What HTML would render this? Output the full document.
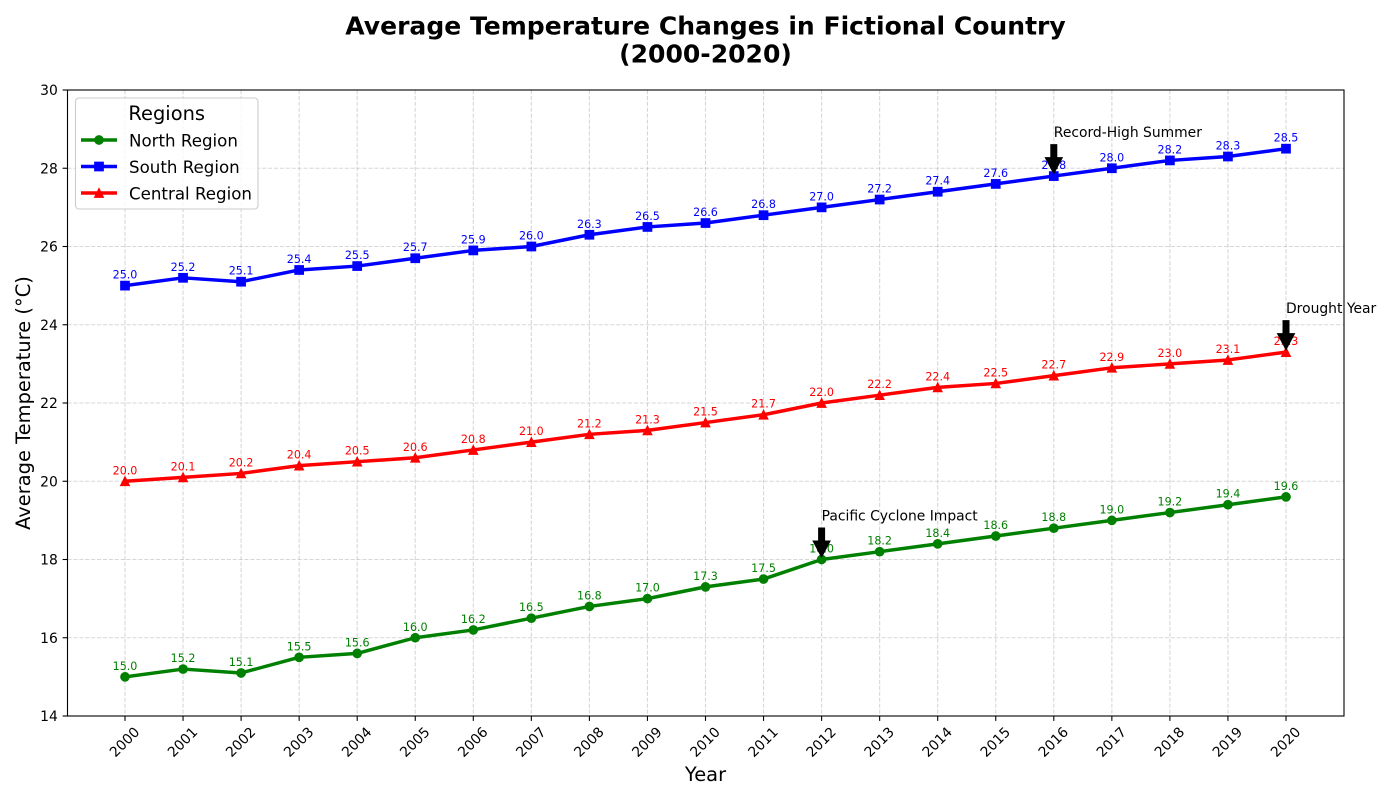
<!DOCTYPE html>
<html>
<head>
<meta charset="utf-8">
<title>Average Temperature Changes in Fictional Country</title>
<style>
html,body{margin:0;padding:0;background:#fff;width:1400px;height:800px;overflow:hidden}
svg{display:block}
text{font-family:"DejaVu Sans","Liberation Sans",sans-serif;fill:#000}
</style>
</head>
<body>
<svg id="chart" xmlns="http://www.w3.org/2000/svg" width="1400" height="800" viewBox="0 0 1400 800">
  <text x="705.5" y="34.5" text-anchor="middle" font-size="25.05px" font-weight="bold">Average Temperature Changes in Fictional Country</text>
  <text x="705.5" y="62.5" text-anchor="middle" font-size="25.05px" font-weight="bold">(2000-2020)</text>
  <text x="705.5" y="781" text-anchor="middle" font-size="19.44px">Year</text>
  <text transform="translate(30,403) rotate(-90)" text-anchor="middle" font-size="19.44px">Average Temperature (°C)</text>
  <g id="grid"></g>
  <g id="series"></g>
  <g id="spines"></g>
  <g id="ticks"></g>
  <g id="annotations"></g>
  <g id="legend"></g>
</svg>
<script>
const years = [2000,2001,2002,2003,2004,2005,2006,2007,2008,2009,2010,2011,2012,2013,2014,2015,2016,2017,2018,2019,2020];
const northValues = [15.0,15.2,15.1,15.5,15.6,16.0,16.2,16.5,16.8,17.0,17.3,17.5,18.0,18.2,18.4,18.6,18.8,19.0,19.2,19.4,19.6];
const southValues = [25.0,25.2,25.1,25.4,25.5,25.7,25.9,26.0,26.3,26.5,26.6,26.8,27.0,27.2,27.4,27.6,27.8,28.0,28.2,28.3,28.5];
const centralValues = [20.0,20.1,20.2,20.4,20.5,20.6,20.8,21.0,21.2,21.3,21.5,21.7,22.0,22.2,22.4,22.5,22.7,22.9,23.0,23.1,23.3];
const yTicks = [14,16,18,20,22,24,26,28,30];
const annotationYears = [2012,2016,2020];
const annotationValues = [18.0,27.8,23.3];
const annotationLabels = ["Pacific Cyclone Impact","Record-High Summer","Drought Year"];

const NS = "http://www.w3.org/2000/svg";
const plotLeft = 67.5, plotRight = 1344, plotTop = 90, plotBottom = 716;
const xScale = function (year) { return 125 + (year - 2000) * 58.05; };
const yScale = function (value) { return plotBottom - (value - 14) * (plotBottom - plotTop) / 16; };

function make(tag, parent, props, content) {
  const el = document.createElementNS(NS, tag);
  for (const key in props) el.setAttribute(key, props[key]);
  if (content !== undefined) el.textContent = content;
  parent.appendChild(el);
  return el;
}
function drawMarker(parent, kind, x, y, color) {
  if (kind === "circle") return make("circle", parent, {cx: x, cy: y, r: 4.86, fill: color});
  if (kind === "square") return make("rect", parent, {x: x - 4.86, y: y - 4.86, width: 9.72, height: 9.72, fill: color});
  return make("polygon", parent, {points: (x) + "," + (y - 4.17) + " " + (x + 4.17) + "," + (y + 4.17) + " " + (x - 4.17) + "," + (y + 4.17), fill: color, stroke: color, "stroke-width": 1.39});
}

const gridG = document.getElementById("grid");
const seriesG = document.getElementById("series");
const spinesG = document.getElementById("spines");
const ticksG = document.getElementById("ticks");
const annG = document.getElementById("annotations");
const legendG = document.getElementById("legend");
const gridStyle = {stroke: "#b0b0b0", "stroke-width": 1.1, "stroke-dasharray": "4.1,1.8", opacity: 0.5};

years.forEach(function (year) {
  const x = xScale(year);
  const line = make("line", gridG, Object.assign({x1: x, x2: x, y1: plotTop, y2: plotBottom}, gridStyle));
  
  
  const tick = make("line", ticksG, {x1: x, x2: x, y1: plotBottom, y2: plotBottom + 4.9, stroke: "#000", "stroke-width": 1.1});
  
  
  const label = make("text", ticksG, {transform: "translate(" + x + ",742.5) rotate(-45)", "text-anchor": "middle", "dominant-baseline": "central", "font-size": "13.89px"}, String(year));
  
  
});

yTicks.forEach(function (value) {
  const y = yScale(value);
  const line = make("line", gridG, Object.assign({x1: plotLeft, x2: plotRight, y1: y, y2: y}, gridStyle));
  
  
  const tick = make("line", ticksG, {x1: plotLeft - 4.9, x2: plotLeft, y1: y, y2: y, stroke: "#000", "stroke-width": 1.1});
  
  
  const label = make("text", ticksG, {x: plotLeft - 9.7, y: y + 5, "text-anchor": "end", "font-size": "13.89px"}, String(value));
  
  
});

function drawSeries(values, color, kind, name) {
  const group = make("g", seriesG, {});
  
  
  const pts = values.map(function (v, i) { return xScale(years[i]) + "," + yScale(v); }).join(" ");
  const line = make("polyline", group, {points: pts, fill: "none", stroke: color, "stroke-width": 3.47, "stroke-linejoin": "round"});
  
  
  values.forEach(function (v, i) {
    const x = xScale(years[i]), y = yScale(v);
    const marker = drawMarker(group, kind, x, y, color);
    
    
    const label = make("text", group, {x: x, y: y - 7, "text-anchor": "middle", "font-size": "11.11px"}, v.toFixed(1));
    label.style.fill = color;
    
    
  });
}
drawSeries(northValues, "#008000", "circle", "north-region-series");
drawSeries(southValues, "#0000ff", "square", "south-region-series");
drawSeries(centralValues, "#ff0000", "triangle", "central-region-series");

const frame = make("rect", spinesG, {x: plotLeft, y: plotTop, width: plotRight - plotLeft, height: plotBottom - plotTop, fill: "none", stroke: "#000", "stroke-width": 1.1});



annotationYears.forEach(function (year, i) {
  const x = xScale(year), y = yScale(annotationValues[i]);
  const text = make("text", annG, {x: x, y: yScale(annotationValues[i] + 1), "font-size": "13.89px"}, annotationLabels[i]);
  
  
  const pts = [[-3,-31.5],[3,-31.5],[3,-18.5],[8.5,-18.5],[0,-2.5],[-8.5,-18.5],[-3,-18.5]]
    .map(function (p) { return (x + p[0]) + "," + (y + p[1]); }).join(" ");
  const arrow = make("polygon", annG, {points: pts, fill: "#000", stroke: "#000", "stroke-width": 1});
  
  
});

const legendBox = make("rect", legendG, {x: 75.5, y: 98, width: 182.5, height: 111, rx: 3.5, fill: "#fff", "fill-opacity": 0.8, stroke: "#ccc", "stroke-width": 1.1});


const legendTitle = make("text", legendG, {x: 166.7, y: 120, "text-anchor": "middle", "font-size": "19.44px"}, "Regions");



function drawLegendEntry(y, color, kind, label, name) {
  const group = make("g", legendG, {});
  
  
  const line = make("line", group, {x1: 81, x2: 117, y1: y, y2: y, stroke: color, "stroke-width": 3.47});
  
  
  const marker = drawMarker(group, kind, 99, y, color);
  
  
  const text = make("text", group, {x: 129, y: y + 6.3, "font-size": "16.67px"}, label);
  
  
}
drawLegendEntry(140, "#008000", "circle", "North Region", "legend-entry-north");
drawLegendEntry(166.5, "#0000ff", "square", "South Region", "legend-entry-south");
drawLegendEntry(193, "#ff0000", "triangle", "Central Region", "legend-entry-central");
</script>
</body>
</html>
